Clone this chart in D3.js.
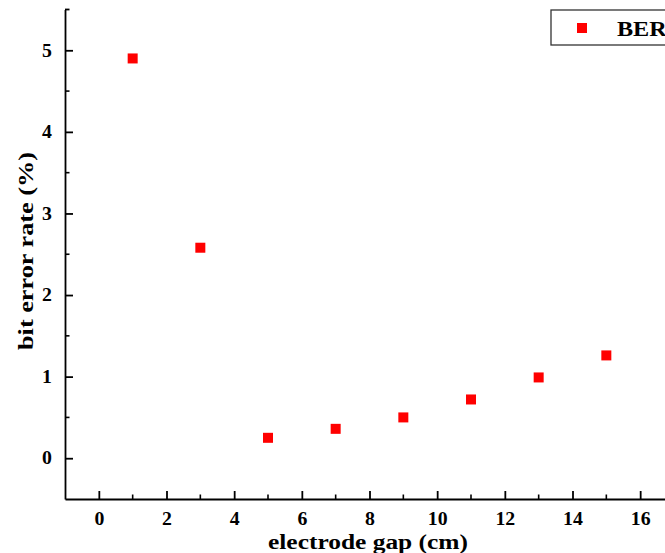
<!DOCTYPE html>
<html>
<head>
<meta charset="utf-8">
<script src="https://cdn.jsdelivr.net/npm/d3@7"></script>
<style>
  html, body { margin: 0; padding: 0; background: #fff; }
  svg { display: block; font-family: "Liberation Serif", "Times New Roman", serif; font-weight: bold; }
</style>
</head>
<body>
<svg id="chart" width="665" height="553"></svg>
<script>
// Electrode gap (cm) vs bit error rate (%)
const gaps = [1, 3, 5, 7, 9, 11, 13, 15];
const berValues = [4.90, 2.58, 0.25, 0.36, 0.50, 0.72, 0.99, 1.26];
const xTicks = [0, 2, 4, 6, 8, 10, 12, 14, 16];
const yTicks = [0, 1, 2, 3, 4, 5];
const seriesName = "BER";

const svg = d3.select("#chart");
const plotLeft = 65, plotTop = 9.5, plotBottom = 499, plotRight = 674;

const x = d3.scaleLinear().domain([-1, 17]).range([plotLeft, plotRight]);
const y = d3.scaleLinear().domain([-0.5, 5.5]).range([plotBottom, plotTop]);

const g = svg.append("g");

// minor ticks
const xMinor = d3.range(-1, 17.01, 1).filter(v => !xTicks.includes(v) && v > -1);
const yMinor = d3.range(-0.5, 5.51, 0.5).filter(v => !yTicks.includes(v) && v > -0.5 && v < 5.5);

g.selectAll(".xminor").data(xMinor).join("line")
  .attr("x1", d => x(d)).attr("x2", d => x(d))
  .attr("y1", plotBottom).attr("y2", plotBottom - 4.5)
  .attr("stroke", "#000").attr("stroke-width", 1.6);
g.selectAll(".yminor").data(yMinor).join("line")
  .attr("x1", plotLeft).attr("x2", plotLeft + 4.5)
  .attr("y1", d => y(d)).attr("y2", d => y(d))
  .attr("stroke", "#000").attr("stroke-width", 1.6);

const fmt = d3.format("d");

// x axis
const xAxis = d3.axisBottom(x).tickValues(xTicks).tickFormat(fmt)
  .tickSizeInner(-8).tickSizeOuter(0).tickPadding(13);
const gx = g.append("g").attr("transform", `translate(0,${plotBottom})`).call(xAxis);
gx.attr("font-family", null).attr("font-size", null);
gx.select(".domain").attr("stroke-width", 1.8);
gx.selectAll(".tick line").attr("stroke-width", 1.8);
gx.selectAll(".tick text").attr("font-size", 18).attr("fill", "#000")
  .attr("transform", "scale(1.1,1)");

// y axis
const yAxis = d3.axisLeft(y).tickValues(yTicks).tickFormat(fmt)
  .tickSizeInner(-8).tickSizeOuter(0).tickPadding(12);
const gy = g.append("g").attr("transform", `translate(${plotLeft},0)`).call(yAxis);
gy.attr("font-family", null).attr("font-size", null);
gy.select(".domain").attr("stroke-width", 1.8);
gy.selectAll(".tick line").attr("stroke-width", 1.8);
gy.selectAll(".tick text").attr("font-size", 18).attr("fill", "#000")
  .attr("transform", "scale(1.1,1)");

// top cap on y axis
g.append("line").attr("x1", plotLeft).attr("x2", plotLeft + 4.5)
  .attr("y1", plotTop).attr("y2", plotTop).attr("stroke", "#000").attr("stroke-width", 1.8);

// data markers
const size = 10;
g.selectAll(".pt").data(gaps).join("rect")
  .attr("x", (d) => x(d) - size / 2)
  .attr("y", (d, i) => y(berValues[i]) - size / 2)
  .attr("width", size).attr("height", size)
  .attr("fill", "#ff0000");

// axis titles
svg.append("text")
  .attr("x", 368).attr("y", 549)
  .attr("text-anchor", "middle")
  .attr("font-size", 20)
  .attr("textLength", 200).attr("lengthAdjust", "spacingAndGlyphs")
  .text("electrode gap (cm)");

svg.append("text")
  .attr("transform", `translate(33,251) rotate(-90)`)
  .attr("text-anchor", "middle")
  .attr("font-size", 21)
  .attr("textLength", 198).attr("lengthAdjust", "spacingAndGlyphs")
  .text("bit error rate (%)");

// legend
const lg = svg.append("g");
lg.append("rect").attr("x", 551).attr("y", 10).attr("width", 130).attr("height", 35)
  .attr("fill", "#fff").attr("stroke", "#333").attr("stroke-width", 1.3);
lg.append("rect").attr("x", 582 - size / 2).attr("y", 28 - size / 2)
  .attr("width", size).attr("height", size).attr("fill", "#ff0000");
lg.append("text").attr("x", 617).attr("y", 36).attr("font-size", 22)
  .attr("transform", "translate(-61.7,0) scale(1.1,1)").text(seriesName);
</script>
</body>
</html>
